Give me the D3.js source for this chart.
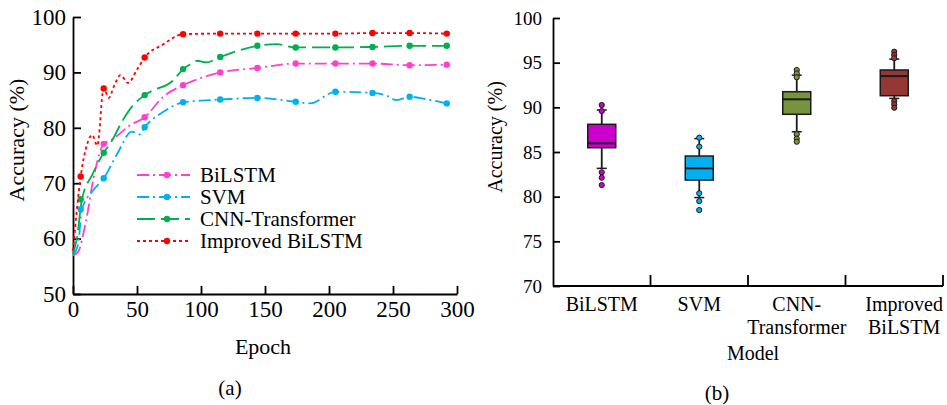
<!DOCTYPE html>
<html>
<head>
<meta charset="utf-8">
<script src="https://cdn.jsdelivr.net/npm/d3@7"></script>
<style>
  body { margin: 0; background: #fff; }
  svg { font-family: "Liberation Serif", "Times New Roman", serif; }
</style>
</head>
<body>
<div id="chart"></div>
<script>
// ---- (a) accuracy vs epoch ----
var lineNames = ["BiLSTM", "SVM", "CNN-Transformer", "Improved BiLSTM"];
var lineColors = ["#ff40cc", "#00b0f0", "#00b050", "#ff0000"];
var lineDash = ["12,4,2,4", "12,4,2,4", "18,6", "3,3"];

// epochs where markers sit
var markEpochs = [6, 24, 56, 86, 115, 144, 174, 205, 234, 263, 292];

var bilstmEpoch = [0, 4, 10, 17, 24, 30, 45, 56, 70, 86, 100, 115, 144, 174, 205, 234, 263, 292];
var bilstmAcc   = [57, 57.6, 63, 72, 77.1, 77.8, 80.5, 81.9, 85.5, 87.7, 89, 90, 90.8, 91.6, 91.6, 91.6, 91.3, 91.4];
var bilstmMarks = [null, 77.1, 81.9, 87.7, 90, 90.8, 91.6, 91.6, 91.6, 91.3, 91.4];

var svmEpoch = [0, 4, 7, 15, 24, 35, 46, 52, 56, 70, 86, 100, 115, 144, 174, 185, 205, 234, 245, 253, 263, 275, 292];
var svmAcc   = [57, 59, 65.3, 68.5, 70.9, 75.5, 79.3, 78.8, 80.1, 82.8, 84.6, 84.9, 85.1, 85.4, 84.7, 84.4, 86.5, 86.3, 85.8, 85.0, 85.6, 85.2, 84.4];
var svmMarks = [65.3, 70.9, 80.1, 84.6, 85.1, 85.4, 84.7, 86.5, 86.3, 85.6, 84.4];

var cnnEpoch = [0, 3, 7, 15, 24, 30, 38, 45, 56, 65, 73, 78, 86, 92, 97, 104, 115, 130, 144, 159, 174, 205, 234, 263, 292];
var cnnAcc   = [57.3, 60, 67.1, 71.5, 75.5, 77.5, 81, 83.5, 85.9, 87, 87.7, 88.5, 90.6, 91.5, 92.1, 91.8, 92.8, 94, 94.8, 95.1, 94.5, 94.5, 94.6, 94.8, 94.8];
var cnnMarks = [67.1, 75.5, 85.9, 90.6, 92.8, 94.8, 94.5, 94.5, 94.6, 94.8, 94.8];

var impEpoch = [0, 6, 11, 15, 19, 24, 28, 32, 37, 43, 50, 56, 70, 86, 115, 144, 174, 205, 234, 263, 292];
var impAcc   = [57.8, 71.2, 77, 78.7, 76.8, 87.1, 85.4, 87.5, 89.5, 88.1, 90.5, 92.7, 95, 96.9, 97, 97, 97, 97, 97.1, 97.1, 97];
var impMarks = [71.2, 87.1, 92.7, 96.9, 97, 97, 97, 97, 97.1, 97.1, 97];

var lineEpochs = [bilstmEpoch, svmEpoch, cnnEpoch, impEpoch];
var lineAccs = [bilstmAcc, svmAcc, cnnAcc, impAcc];
var lineMarks = [bilstmMarks, svmMarks, cnnMarks, impMarks];

// ---- (b) box plot ----
var models = ["BiLSTM", "SVM", "CNN-Transformer", "Improved BiLSTM"];
var modelLabels = [["BiLSTM"], ["SVM"], ["CNN-", "Transformer"], ["Improved", "BiLSTM"]];
var boxColors = ["#cc00cc", "#00b0f0", "#77933c", "#953735"];
var q1 = [85.48, 81.86, 89.22, 91.3];
var med = [85.97, 83.17, 90.9, 93.5];
var q3 = [88.1, 84.55, 91.75, 94.18];
var whiskLo = [83.17, 79.9, 87.27, 91.0];
var whiskHi = [89.7, 86.5, 93.6, 95.4];
var outliers = [
  [90.26, 89.59, 82.73, 82.12, 81.3],
  [86.6, 85.6, 80.38, 79.5, 78.5],
  [94.18, 93.8, 93.36, 87.0, 86.5, 86.15],
  [96.23, 95.86, 95.5, 90.7, 90.34, 89.96]
];

var svg = d3.select("#chart").append("svg")
  .attr("width", 947)
  .attr("height", 405);

function styleAxis(g, size) {
  g.selectAll("path, line").attr("stroke", "#000").attr("stroke-width", 1.8);
  g.selectAll("text").attr("fill", "#000")
    .style("font-family", "'Liberation Serif', 'Times New Roman', serif")
    .style("font-size", size + "px");
}

// ===== left panel =====
var x = d3.scaleLinear().domain([0, 300]).range([73, 457]);
var y = d3.scaleLinear().domain([50, 100]).range([294, 17]);

var gx = svg.append("g")
  .attr("transform", "translate(0,294)")
  .call(d3.axisBottom(x).tickValues(d3.range(0, 301, 50)).tickSizeInner(-8).tickSizeOuter(0).tickPadding(7));
styleAxis(gx, 23);

var gy = svg.append("g")
  .attr("transform", "translate(73,0)")
  .call(d3.axisLeft(y).tickValues(d3.range(50, 101, 10)).tickSizeInner(-8).tickSizeOuter(0).tickPadding(7));
styleAxis(gy, 23);

var line = d3.line()
  .x(function(d) { return x(d[0]); })
  .y(function(d) { return y(d[1]); })
  .curve(d3.curveMonotoneX);

lineNames.forEach(function(name, i) {
  var pts = lineEpochs[i].map(function(e, j) { return [e, lineAccs[i][j]]; });
  svg.append("path")
    .datum(pts)
    .attr("d", line)
    .attr("fill", "none")
    .attr("stroke", lineColors[i])
    .attr("stroke-width", 1.8)
    .attr("stroke-dasharray", lineDash[i]);

  var marks = markEpochs.map(function(e, j) { return [e, lineMarks[i][j]]; })
    .filter(function(d) { return d[1] != null; });
  svg.selectAll(null)
    .data(marks)
    .enter().append("circle")
    .attr("cx", function(d) { return x(d[0]); })
    .attr("cy", function(d) { return y(d[1]); })
    .attr("r", 3.2)
    .attr("fill", lineColors[i]);
});

// legend
var legend = svg.append("g").attr("transform", "translate(137,175)");
lineNames.forEach(function(name, i) {
  var row = legend.append("g").attr("transform", "translate(0," + (i * 22) + ")");
  row.append("line")
    .attr("x1", 0).attr("x2", 53)
    .attr("stroke", lineColors[i])
    .attr("stroke-width", 1.8)
    .attr("stroke-dasharray", lineDash[i]);
  row.append("circle").attr("cx", 30).attr("r", 3.2).attr("fill", lineColors[i]);
  row.append("text")
    .attr("x", 63).attr("dy", "0.35em")
    .style("font-size", "21px")
    .text(name);
});

svg.append("text")
  .attr("x", 263).attr("y", 354)
  .attr("text-anchor", "middle")
  .style("font-size", "22px")
  .text("Epoch");

svg.append("text")
  .attr("transform", "translate(16,140) rotate(-90)")
  .attr("dy", "0.35em")
  .attr("text-anchor", "middle")
  .style("font-size", "22px")
  .text("Accuracy (%)");

svg.append("text")
  .attr("x", 230).attr("y", 395)
  .attr("text-anchor", "middle")
  .style("font-size", "21px")
  .text("(a)");

// ===== right panel =====
var xb = d3.scaleBand().domain(models).range([553, 943]);
var yb = d3.scaleLinear().domain([70, 100]).range([286, 18]);

var gyb = svg.append("g")
  .attr("transform", "translate(553,0)")
  .call(d3.axisLeft(yb).tickValues(d3.range(70, 101, 5)).tickSizeInner(-7).tickSizeOuter(0).tickPadding(11));
styleAxis(gyb, 19);

var gxb = svg.append("g").attr("transform", "translate(0,286)");
gxb.append("line")
  .attr("x1", 553).attr("x2", 943)
  .attr("stroke", "#000").attr("stroke-width", 1.8);
gxb.selectAll(".bt")
  .data(models)
  .enter().append("line")
  .attr("x1", function(d) { return xb(d) + xb.bandwidth(); })
  .attr("x2", function(d) { return xb(d) + xb.bandwidth(); })
  .attr("y1", 0).attr("y2", -11)
  .attr("stroke", "#000").attr("stroke-width", 1.8);

models.forEach(function(m, i) {
  var cx = xb(m) + xb.bandwidth() / 2;
  var t = gxb.append("text")
    .attr("text-anchor", "middle")
    .style("font-size", "20px");
  modelLabels[i].forEach(function(s, k) {
    t.append("tspan").attr("x", cx).attr("y", 25 + k * 23).text(s);
  });
  // last label sits flush with the axis end
  if (i === models.length - 1) {
    var w = t.node().getBBox().width;
    t.selectAll("tspan").attr("x", xb.range()[1] - w / 2);
  }
});

svg.append("text")
  .attr("x", 753).attr("y", 360)
  .attr("text-anchor", "middle")
  .style("font-size", "20px")
  .text("Model");

svg.append("text")
  .attr("transform", "translate(495,137) rotate(-90)")
  .attr("dy", "0.35em")
  .attr("text-anchor", "middle")
  .style("font-size", "20px")
  .text("Accuracy (%)");

svg.append("text")
  .attr("x", 717).attr("y", 400)
  .attr("text-anchor", "middle")
  .style("font-size", "21px")
  .text("(b)");

var boxW = 28;
models.forEach(function(m, i) {
  var cx = xb(m) + xb.bandwidth() / 2;
  var g = svg.append("g");
  g.append("line")
    .attr("x1", cx).attr("x2", cx)
    .attr("y1", yb(whiskHi[i])).attr("y2", yb(whiskLo[i]))
    .attr("stroke", "#1a1a1a").attr("stroke-width", 1.8);
  [whiskHi[i], whiskLo[i]].forEach(function(v) {
    g.append("line")
      .attr("x1", cx - 5).attr("x2", cx + 5)
      .attr("y1", yb(v)).attr("y2", yb(v))
      .attr("stroke", "#1a1a1a").attr("stroke-width", 1.5);
  });
  g.append("rect")
    .attr("x", cx - boxW / 2)
    .attr("y", yb(q3[i]))
    .attr("width", boxW)
    .attr("height", yb(q1[i]) - yb(q3[i]))
    .attr("fill", boxColors[i])
    .attr("stroke", "#1a1a1a").attr("stroke-width", 1.5);
  g.append("line")
    .attr("x1", cx - boxW / 2).attr("x2", cx + boxW / 2)
    .attr("y1", yb(med[i])).attr("y2", yb(med[i]))
    .attr("stroke", "#1a1a1a").attr("stroke-width", 2);
  g.selectAll("circle")
    .data(outliers[i])
    .enter().append("circle")
    .attr("cx", cx)
    .attr("cy", function(d) { return yb(d); })
    .attr("r", 2.6)
    .attr("fill", boxColors[i])
    .attr("stroke", "#1a1a1a").attr("stroke-width", 1);
});
</script>
</body>
</html>
